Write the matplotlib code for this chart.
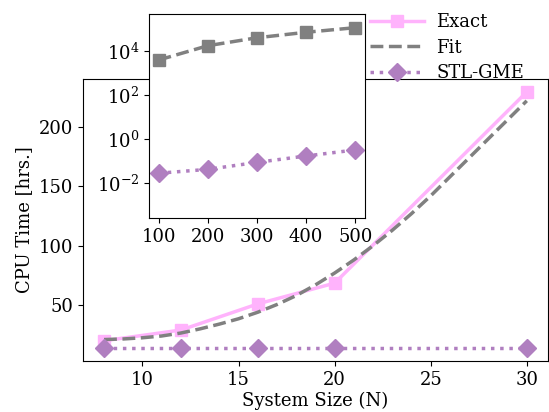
import matplotlib
matplotlib.use("Agg")
import matplotlib.pyplot as plt
from matplotlib.ticker import LogLocator, NullLocator

plt.rcParams['font.family'] = 'DejaVu Serif'
plt.rcParams['mathtext.fontset'] = 'dejavuserif'
plt.rcParams['font.size'] = 13

# main panel data
sizes = [8, 12, 16, 20, 30]
exact = [20, 29, 51, 68.5, 229.5]
stl_gme = [13.8, 13.8, 13.8, 13.8, 13.8]

fit_n = [8, 9, 10, 11, 12, 13, 14, 15, 16, 17, 18, 19, 20, 21, 22,
         23, 24, 25, 26, 27, 28, 29, 30]
fit_t = [21, 21.5, 22.5, 24, 26.5, 30, 34, 38.5, 44, 50.5, 58, 67, 77,
         88, 100, 113, 127, 142, 158, 174, 190, 206, 222]

# inset data
big_sizes = [100, 200, 300, 400, 500]
big_fit = [3900, 17400, 40000, 71000, 115000]
big_stl = [0.028, 0.042, 0.087, 0.17, 0.32]

pink = '#ffb3fc'
gray = '#808080'
purple = '#b07fc0'

fig = plt.figure(figsize=(5.49, 4.12), dpi=100)
ax = fig.add_axes([0.151, 0.124, 0.847, 0.684])

ax.plot(sizes, exact, color=pink, lw=2.5, marker='s', ms=9, label='Exact')
ax.plot(fit_n, fit_t, color=gray, lw=2.5, ls='--', label='Fit')
ax.plot(sizes, stl_gme, color=purple, lw=2.5, ls=':', marker='D', ms=9,
        label='STL-GME')

ax.set_xlabel('System Size (N)', labelpad=2.5)
ax.set_ylabel('CPU Time [hrs.]')
ax.set_xticks([10, 15, 20, 25, 30])
ax.set_yticks([50, 100, 150, 200])

ax.legend(loc='upper left', bbox_to_anchor=(0.66, 0.985),
          bbox_transform=fig.transFigure, frameon=False,
          handlelength=3.0, handletextpad=0.7, labelspacing=0.4,
          borderaxespad=0)

# inset
ins = fig.add_axes([0.271, 0.471, 0.394, 0.495])
ins.plot(big_sizes, big_fit, color=gray, lw=2.5, ls='--', marker='s', ms=9)
ins.plot(big_sizes, big_stl, color=purple, lw=2.5, ls=':', marker='D', ms=9)
ins.set_yscale('log')
ins.set_ylim(2.6e-4, 4.8e5)
ins.yaxis.set_major_locator(LogLocator(base=100))
ins.yaxis.set_minor_locator(NullLocator())
ins.set_xticks(big_sizes)

fig.savefig('out.png', dpi=100)
